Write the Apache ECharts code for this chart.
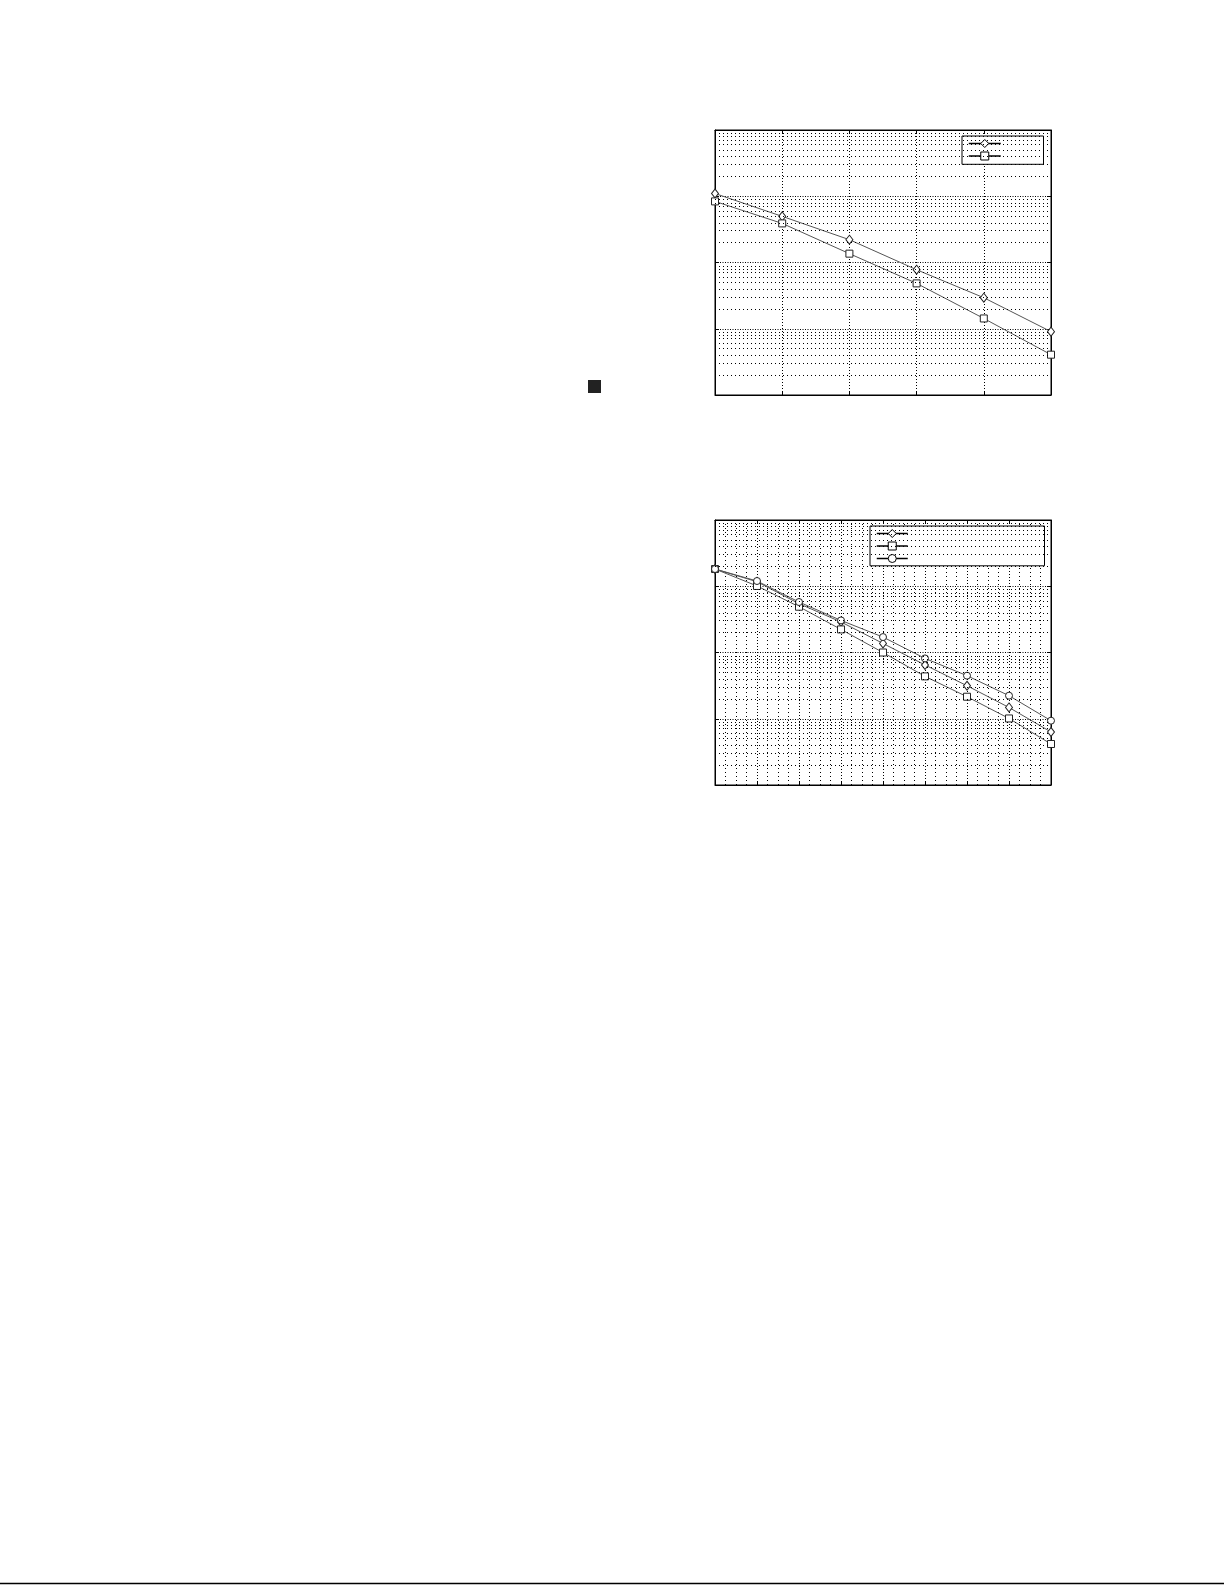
<!DOCTYPE html>
<html>
<head>
<meta charset="utf-8">
<script src="https://cdn.jsdelivr.net/npm/echarts@6/dist/echarts.min.js"></script>
<style>
html,body{margin:0;padding:0;background:#fff;}
#main{width:1225px;height:1585px;}
</style>
</head>
<body>
<div id="main"></div>
<script>
// ---- data ----
var topX = [0, 1, 2, 3, 4, 5];
var topDiamond = [0.110, 0.0497, 0.0221, 0.00778, 0.00294, 0.000904];
var topSquare = [0.0836, 0.0389, 0.0136, 0.00484, 0.00143, 0.000406];

var botX = [0, 1, 2, 3, 4, 5, 6, 7, 8];
var botDiamond = [0.182, 0.117, 0.0546, 0.0289, 0.0137, 0.00648, 0.00315, 0.00148, 0.000631];
var botSquare = [0.182, 0.101, 0.0491, 0.0223, 0.0100, 0.00436, 0.00215, 0.00101, 0.000416];
var botCircle = [0.182, 0.120, 0.0578, 0.0305, 0.0171, 0.00814, 0.00447, 0.00223, 0.000935];

var yMin = 1e-4, yMax = 1;
var expMin = Math.log10(yMin), expMax = Math.log10(yMax);

// ---- helpers ----
function pairs(xs, ys) { return xs.map(function (x, i) { return [x, ys[i]]; }); }
// minor log grid positions, given in exponent units on a hidden linear axis
function minorLogLines() {
  var out = [];
  for (var e = expMin; e < expMax; e++) {
    for (var k = 2; k <= 9; k++) out.push({ yAxis: e + Math.log10(k) });
  }
  return out;
}

var chart = echarts.init(document.getElementById('main'));

var grids = [
  { left: 715, top: 130, width: 336, height: 265, show: true, borderColor: '#000', borderWidth: 1, backgroundColor: 'transparent' },
  { left: 715, top: 520, width: 336, height: 265, show: true, borderColor: '#000', borderWidth: 1, backgroundColor: 'transparent' }
];

function xAxes(gi, max, minor) {
  return [
    {
      type: 'value', gridIndex: gi, min: 0, max: max, interval: 1, position: 'bottom',
      axisLine: { show: true, onZero: false, lineStyle: { color: '#000', width: 1 } },
      axisTick: { show: true, inside: true, length: 4, lineStyle: { color: '#000' } },
      axisLabel: { show: false },
      splitLine: { show: true, lineStyle: { color: '#000', width: 1, type: [1, 2] } },
      minorTick: { show: false, splitNumber: 4 },
      minorSplitLine: { show: minor, lineStyle: { color: '#000', width: 1, type: [1, 3] } }
    },
    {
      type: 'value', gridIndex: gi, min: 0, max: max, interval: 1, position: 'top',
      axisLine: { show: true, onZero: false, lineStyle: { color: '#000', width: 1 } },
      axisTick: { show: true, inside: true, length: 4, lineStyle: { color: '#000' } },
      axisLabel: { show: false }, splitLine: { show: false }
    }
  ];
}
function yAxes(gi) {
  return [
    {
      type: 'log', logBase: 10, gridIndex: gi, min: yMin, max: yMax, position: 'left',
      axisLine: { show: true, onZero: false, lineStyle: { color: '#000', width: 1 } },
      axisTick: { show: true, inside: true, length: 4, lineStyle: { color: '#000' } },
      axisLabel: { show: false },
      splitLine: { show: true, lineStyle: { color: '#000', width: 1, type: [1, 1.5] } }
    },
    {
      type: 'log', logBase: 10, gridIndex: gi, min: yMin, max: yMax, position: 'right',
      axisLine: { show: true, onZero: false, lineStyle: { color: '#000', width: 1 } },
      axisTick: { show: true, inside: true, length: 4, lineStyle: { color: '#000' } },
      axisLabel: { show: false }, splitLine: { show: false }
    },
    {
      // hidden linear axis in exponent units, only used to place the minor log grid
      type: 'value', gridIndex: gi, min: expMin, max: expMax, interval: 1, show: false,
      splitLine: { show: false }
    }
  ];
}

var markerStyle = { color: '#fff', borderColor: '#222', borderWidth: 1 };
var lineSty = { color: '#555', width: 1 };

function seriesLine(name, xi, yi, xs, ys, symbol, size) {
  return {
    name: name, type: 'line', xAxisIndex: xi, yAxisIndex: yi,
    data: pairs(xs, ys), symbol: symbol, symbolSize: size, showSymbol: true,
    itemStyle: markerStyle, lineStyle: lineSty, z: 3,
    emphasis: { disabled: true }, silent: true
  };
}
function minorGridSeries(xi, yi) {
  return {
    name: 'minor' + xi, type: 'line', xAxisIndex: xi, yAxisIndex: yi, data: [], z: 1, silent: true,
    markLine: {
      silent: true, symbol: ['none', 'none'], label: { show: false },
      lineStyle: { color: '#000', width: 1, type: [1, 3] },
      emphasis: { disabled: true },
      data: minorLogLines(), animation: false
    }
  };
}

var legendBase = {
  orient: 'vertical', backgroundColor: '#fff', borderColor: '#000', borderWidth: 1, borderRadius: 0,
  itemHeight: 10, itemGap: 3, formatter: function () { return ''; },
  textStyle: { fontSize: 8 }, selectedMode: false,
  itemStyle: { color: '#fff', borderColor: '#000', borderWidth: 1 },
  lineStyle: { color: '#000', width: 1.5 }
};

var option = {
  animation: false,
  backgroundColor: '#fff',
  grid: grids,
  xAxis: xAxes(0, 5, false).concat(xAxes(1, 8, true)),
  yAxis: yAxes(0).concat(yAxes(1)),
  legend: [
    Object.assign({}, legendBase, {
      left: 962, top: 136, itemWidth: 32, padding: [2.5, 42, 3.8, 6],
      data: ['A1', 'A2']
    }),
    Object.assign({}, legendBase, {
      left: 870, top: 526, itemWidth: 31, padding: [2.5, 136, 2.8, 6],
      data: ['B1', 'B2', 'B3']
    })
  ],
  series: [
    minorGridSeries(0, 2),
    minorGridSeries(2, 5),
    seriesLine('A1', 0, 0, topX, topDiamond, 'diamond', [7, 9]),
    seriesLine('A2', 0, 0, topX, topSquare, 'rect', 7),
    seriesLine('B1', 2, 3, botX, botDiamond, 'diamond', [7, 9]),
    seriesLine('B2', 2, 3, botX, botSquare, 'rect', 7),
    seriesLine('B3', 2, 3, botX, botCircle, 'circle', 7)
  ],
  graphic: [
    { type: 'rect', shape: { x: 588, y: 380, width: 13, height: 13 }, style: { fill: '#222' }, silent: true },
    { type: 'line', shape: { x1: 0, y1: 1583.5, x2: 1224, y2: 1583.5 }, style: { stroke: '#000', lineWidth: 1.3 }, silent: true }
  ]
};
chart.setOption(option);
</script>
</body>
</html>
